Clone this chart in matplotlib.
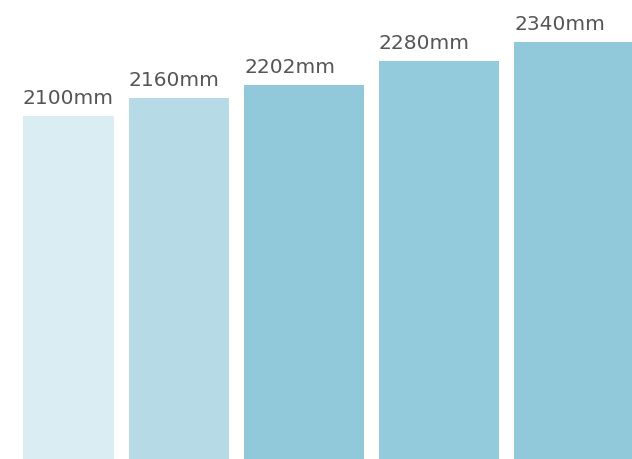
import matplotlib.pyplot as plt

# values
lengths = [2100, 2160, 2202, 2280, 2340]
labels = ['2100mm', '2160mm', '2202mm', '2280mm', '2340mm']

# layout / style
widths = [91, 100, 120, 120, 120]
gap = 15
start = 23
colors = ['#d9edf3', '#b6dbe6', '#91c8da', '#94cbdc', '#92c9da']

lefts = []
x = start
for w in widths:
    lefts.append(x)
    x += w + gap

fig = plt.figure(figsize=(6.32, 4.59), dpi=100)
ax = fig.add_axes([0, 0, 1, 1])

ax.bar(lefts, lengths, width=widths, align='edge', color=colors, linewidth=0)

for l, v, t in zip(lefts, lengths, labels):
    ax.annotate(t, (l, v), xytext=(0, 12), textcoords='offset pixels',
                ha='left', va='baseline', fontsize=14.5, color='#555555',
                family='DejaVu Sans')

ax.set_xlim(0, 632)
ax.set_ylim(985, 2478)
ax.axis('off')

fig.savefig('out.png', dpi=100)
